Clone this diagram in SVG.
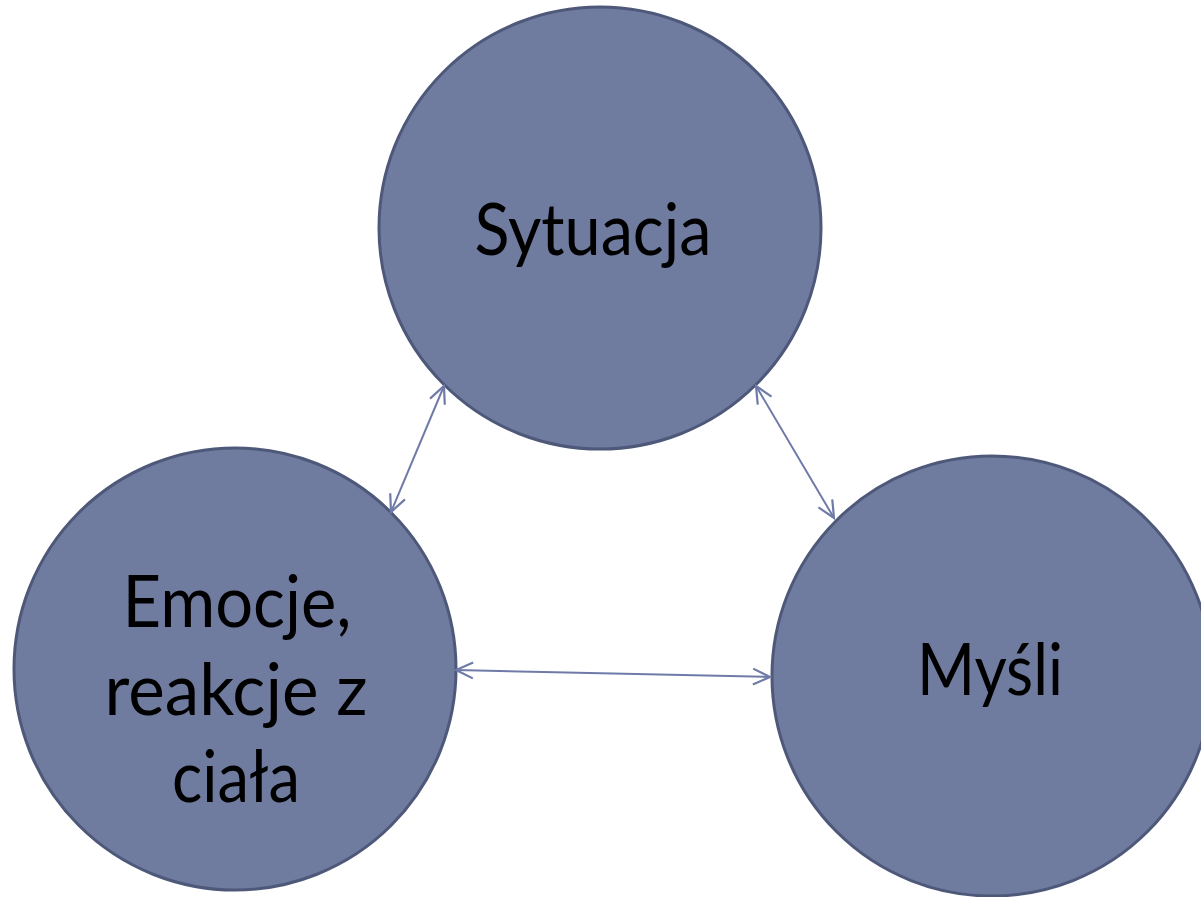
<svg xmlns="http://www.w3.org/2000/svg" width="1201" height="897" viewBox="0 0 1201 897">
<style>
.node{fill:#707ba0;stroke:#4e5879;stroke-width:3}
.lbl{font-family:"Lato","Liberation Sans",sans-serif;font-size:72px;fill:#000;text-anchor:middle}
.conn{stroke:#6f7aa8;stroke-width:2;fill:none;marker-start:url(#ah);marker-end:url(#ah)}
</style>
<defs>
<marker id="ah" viewBox="-20 -10 22 20" refX="0" refY="0" markerWidth="22" markerHeight="20" markerUnits="userSpaceOnUse" orient="auto-start-reverse">
<path d="M-17,-8 L0,0 L-17,8" fill="none" stroke="#6f7aa8" stroke-width="2.2"/>
</marker>
</defs>
<rect width="1201" height="897" fill="#fff"/>
<g id="node-sytuacja">
<circle class="node" cx="600" cy="228" r="221"/>
<text class="lbl" x="593" y="255" textLength="237" lengthAdjust="spacingAndGlyphs">Sytuacja</text>
</g>
<g id="node-emocje">
<circle class="node" cx="235" cy="669" r="221"/>
<text class="lbl" x="237" y="627" textLength="229" lengthAdjust="spacingAndGlyphs">Emocje,</text>
<text class="lbl" x="236" y="715" textLength="263" lengthAdjust="spacingAndGlyphs">reakcje z</text>
<text class="lbl" x="236" y="802" textLength="128" lengthAdjust="spacingAndGlyphs">ciała</text>
</g>
<g id="node-mysli">
<circle class="node" cx="992" cy="676" r="220"/>
<text class="lbl" x="990" y="695" textLength="146" lengthAdjust="spacingAndGlyphs">Myśli</text>
</g>
<g id="connectors">
<line class="conn" x1="444" y1="386" x2="391" y2="512"/>
<line class="conn" x1="756" y1="386" x2="834" y2="518"/>
<line class="conn" x1="456" y1="670" x2="770" y2="677"/>
</g>
</svg>
